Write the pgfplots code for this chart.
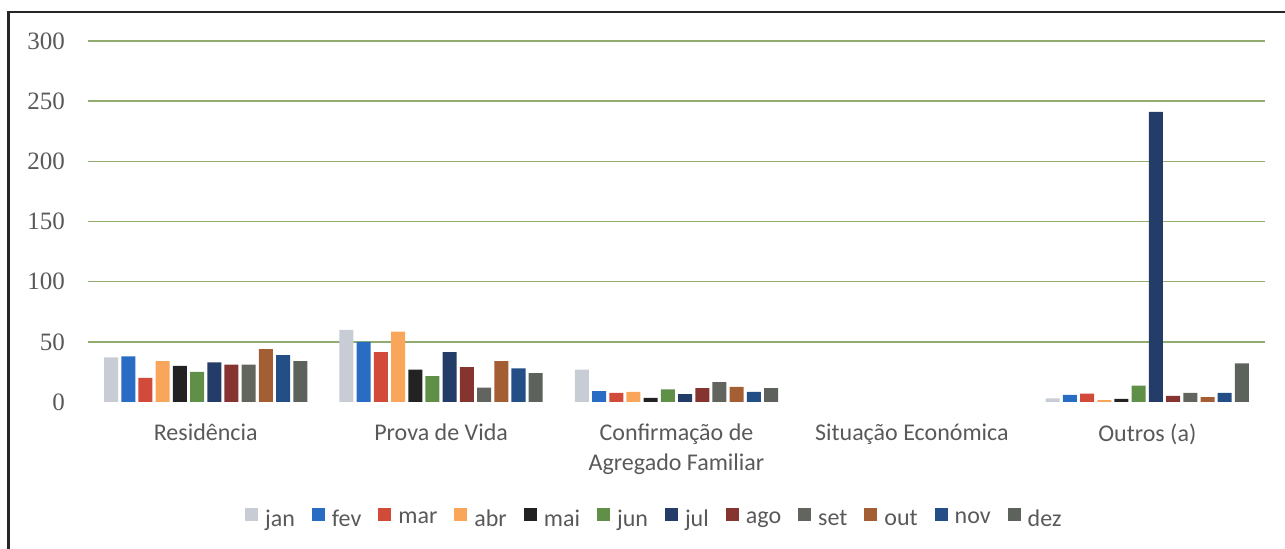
\documentclass[border=0pt]{standalone}
\usepackage{pgfplots}
\usepackage{pgfplotstable}
\pgfplotsset{compat=1.18}
\usepackage{fontspec}
\setmainfont{Liberation Serif}
\newfontfamily\carlito{Carlito}

\definecolor{cjan}{RGB}{200,204,212}
\definecolor{cfev}{RGB}{40,108,196}
\definecolor{cmar}{RGB}{210,74,58}
\definecolor{cabr}{RGB}{250,166,90}
\definecolor{cmai}{RGB}{34,34,34}
\definecolor{cjun}{RGB}{96,144,72}
\definecolor{cjul}{RGB}{36,60,104}
\definecolor{cago}{RGB}{134,52,48}
\definecolor{cset}{RGB}{98,100,94}
\definecolor{cout}{RGB}{164,94,52}
\definecolor{cnov}{RGB}{36,78,134}
\definecolor{cdez}{RGB}{94,98,92}
\definecolor{cgrid}{RGB}{145,172,110}
\definecolor{ctext}{RGB}{89,89,89}

\pgfplotstableread{
idx jan fev mar abr mai jun jul ago set out nov dez
0 37 38 20 34 30 25 33 31 31 44 39 34
1 60 50 41.5 58.5 27 21.5 41.5 29 12 34 28 24
2 27 9 7.5 8.5 3.5 10.5 6.5 11.5 16.5 12.5 8.5 11.5
3 0 0 0 0 0 0 0 0 0 0 0 0
4 3 6 7 1.5 2.5 13.5 241 5 7.5 4 7.5 32
}\data

\pgfplotsset{
  mybar/.style={draw=none, fill=#1,
    legend image code/.code={\fill[#1] (0pt,-0.9pt) rectangle (6.5pt,5.9pt);}},
}

\begin{document}
\begin{tikzpicture}
\useasboundingbox (0,0) rectangle (642.5pt,274.5pt);
\draw[line width=1.3pt, black!85] (4.25pt,0pt) -- (4.25pt,268.5pt) -- (642.5pt,268.5pt);
\begin{axis}[
  at={(44pt,73.5pt)}, anchor=south west,
  scale only axis, width=588.5pt, height=180.5pt,
  ybar=1.6pt, bar width=7pt,
  xmin=-0.5, xmax=4.5, ymin=0, ymax=300,
  y filter/.expression={y<=0 ? nan : y},
  unbounded coords=discard,
  xtick={0,1,2,3,4},
  xticklabels={Residência, Prova de Vida, {Confirmação de\\Agregado Familiar}, Situação Económica, Outros (a)},
  ytick={50,100,...,300},
  extra y ticks={0}, extra y tick style={grid=none},
  ymajorgrids, grid style={cgrid, line width=0.8pt},
  axis line style={draw=none},
  major tick length=0pt,
  /pgf/number format/assume math mode=true,
  yticklabel style={font=\fontsize{12.5}{14}\selectfont, text=ctext, xshift=-8pt},
  xticklabel style={font=\carlito\fontsize{12}{15}\selectfont, text=ctext, align=center, yshift=-7.5pt},
  legend columns=12,
  legend style={at={(0.482,-0.325)}, anchor=center, draw=none, fill=none,
    font=\carlito\fontsize{12}{14}\selectfont, text=ctext,
    /tikz/every even column/.append style={column sep=6.5pt},
    /tikz/every odd column/.append style={column sep=1.5pt}},
]
\addplot[mybar=cjan] table[x=idx,y=jan]{\data};
\addplot[mybar=cfev] table[x=idx,y=fev]{\data};
\addplot[mybar=cmar] table[x=idx,y=mar]{\data};
\addplot[mybar=cabr] table[x=idx,y=abr]{\data};
\addplot[mybar=cmai] table[x=idx,y=mai]{\data};
\addplot[mybar=cjun] table[x=idx,y=jun]{\data};
\addplot[mybar=cjul] table[x=idx,y=jul]{\data};
\addplot[mybar=cago] table[x=idx,y=ago]{\data};
\addplot[mybar=cset] table[x=idx,y=set]{\data};
\addplot[mybar=cout] table[x=idx,y=out]{\data};
\addplot[mybar=cnov] table[x=idx,y=nov]{\data};
\addplot[mybar=cdez] table[x=idx,y=dez]{\data};
\legend{jan,fev,mar,abr,mai,jun,jul,ago,set,out,nov,dez}
\end{axis}
\end{tikzpicture}
\end{document}
